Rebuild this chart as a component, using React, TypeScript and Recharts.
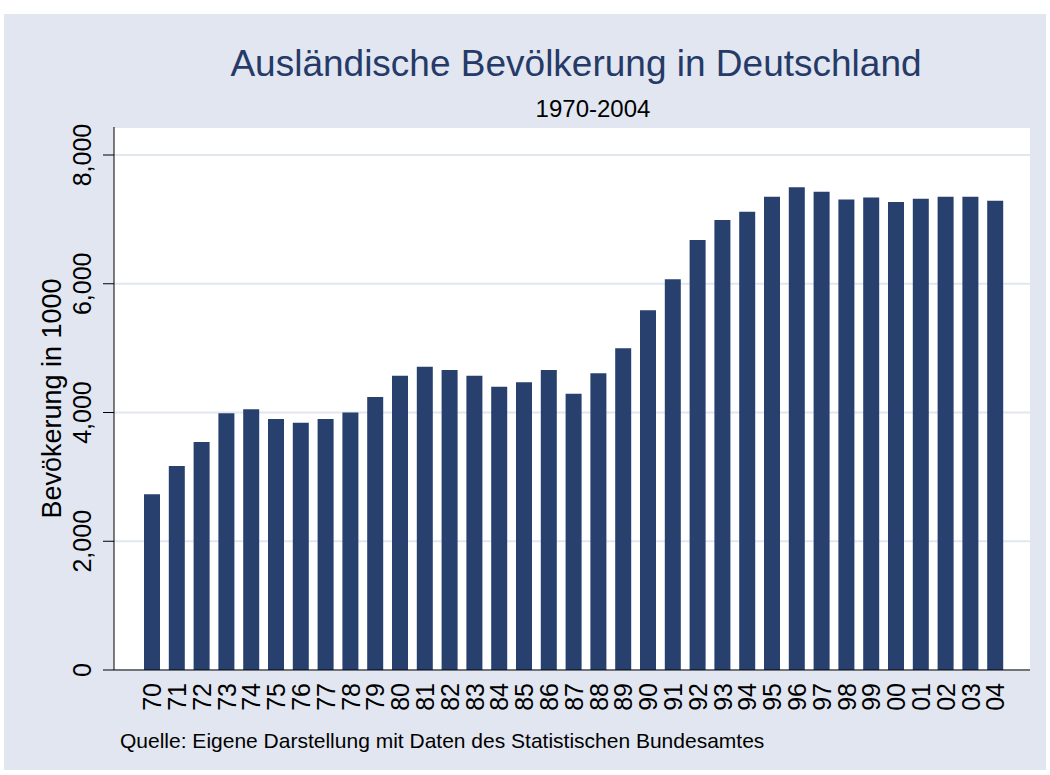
import { Bar, BarChart, CartesianGrid, XAxis, YAxis } from "recharts";

const years = [
  "70", "71", "72", "73", "74", "75", "76", "77", "78", "79",
  "80", "81", "82", "83", "84", "85", "86", "87", "88", "89",
  "90", "91", "92", "93", "94", "95", "96", "97", "98", "99",
  "00", "01", "02", "03", "04",
];
// Ausländische Bevölkerung in 1000
const population = [
  2730, 3170, 3540, 3990, 4050, 3900, 3840, 3900, 4000, 4240,
  4570, 4710, 4660, 4570, 4400, 4470, 4660, 4290, 4610, 5000,
  5590, 6070, 6680, 6990, 7120, 7350, 7500, 7430, 7310, 7340,
  7270, 7320, 7350, 7350, 7290,
];
const yTicks = [0, 2000, 4000, 6000, 8000];

const title = "Ausländische Bevölkerung in Deutschland";
const subtitle = "1970-2004";
const yLabel = "Bevökerung in 1000";
const note = "Quelle: Eigene Darstellung mit Daten des Statistischen Bundesamtes";

const data = years.map((year, i) => ({ year, value: population[i] }));

const FONT = '"Liberation Sans", Arial, Helvetica, sans-serif';
const NAVY = "#27406e";

function YTick({ x, y, payload }: any) {
  return (
    <text
      transform={`translate(${x - 19},${y}) rotate(-90)`}
      textAnchor="middle"
      dy="0.35em"
      fontSize={25}
      fontFamily={FONT}
      fill="#000"
    >
      {Number(payload.value).toLocaleString("en-US")}
    </text>
  );
}

function XTick({ x, y, payload }: any) {
  return (
    <text
      transform={`translate(${x},${y + 5}) rotate(-90)`}
      textAnchor="end"
      dy="0.35em"
      fontSize={25}
      fontFamily={FONT}
      fill="#000"
    >
      {payload.value}
    </text>
  );
}

function YLabel({ viewBox }: any) {
  const cx = 52;
  const cy = viewBox.y + viewBox.height / 2;
  return (
    <text
      transform={`translate(${cx},${cy}) rotate(-90)`}
      textAnchor="middle"
      dy="0.35em"
      fontSize={27}
      fontFamily={FONT}
      fill="#000"
    >
      {yLabel}
    </text>
  );
}

export default function App() {
  return (
    <div
      style={{
        position: "absolute",
        left: 0,
        top: 0,
        width: 1050,
        height: 775,
        background: "#fff",
        fontFamily: FONT,
      }}
    >
      <div
        style={{
          position: "absolute",
          left: 4,
          top: 14,
          width: 1042,
          height: 756,
          background: "#e1e6f0",
        }}
      />
      <div style={{ position: "absolute", left: 0, top: 0 }}>
        <BarChart
          width={1050}
          height={775}
          data={data}
          margin={{ top: 127, right: 20, bottom: 45, left: 0 }}
        >
          <CartesianGrid
            vertical={false}
            stroke="#e1e6f0"
            strokeWidth={2}
            fill="#fff"
          />
          <XAxis
            dataKey="year"
            interval={0}
            height={60}
            tickLine={false}
            axisLine={{ stroke: "#000", strokeWidth: 1 }}
            padding={{ left: 26, right: 22 }}
            tick={<XTick />}
          />
          <YAxis
            type="number"
            width={114}
            domain={[0, 8435]}
            ticks={yTicks}
            tickSize={11}
            tickMargin={2}
            tickLine={{ stroke: "#000" }}
            axisLine={{ stroke: "#000", strokeWidth: 1 }}
            tick={<YTick />}
            label={<YLabel />}
          />
          <Bar
            dataKey="value"
            fill={NAVY}
            barSize={16}
            isAnimationActive={false}
          />
        </BarChart>
      </div>
      <svg
        width={1050}
        height={775}
        style={{ position: "absolute", left: 0, top: 0, pointerEvents: "none" }}
      >
        <text
          x={576}
          y={76}
          textAnchor="middle"
          fontSize={37}
          fontFamily={FONT}
          fill="#263a68"
        >
          {title}
        </text>
        <text
          x={593}
          y={117}
          textAnchor="middle"
          fontSize={24}
          fontFamily={FONT}
          fill="#000"
        >
          {subtitle}
        </text>
        <text x={120} y={748} fontSize={21} fontFamily={FONT} fill="#000">
          {note}
        </text>
      </svg>
    </div>
  );
}
